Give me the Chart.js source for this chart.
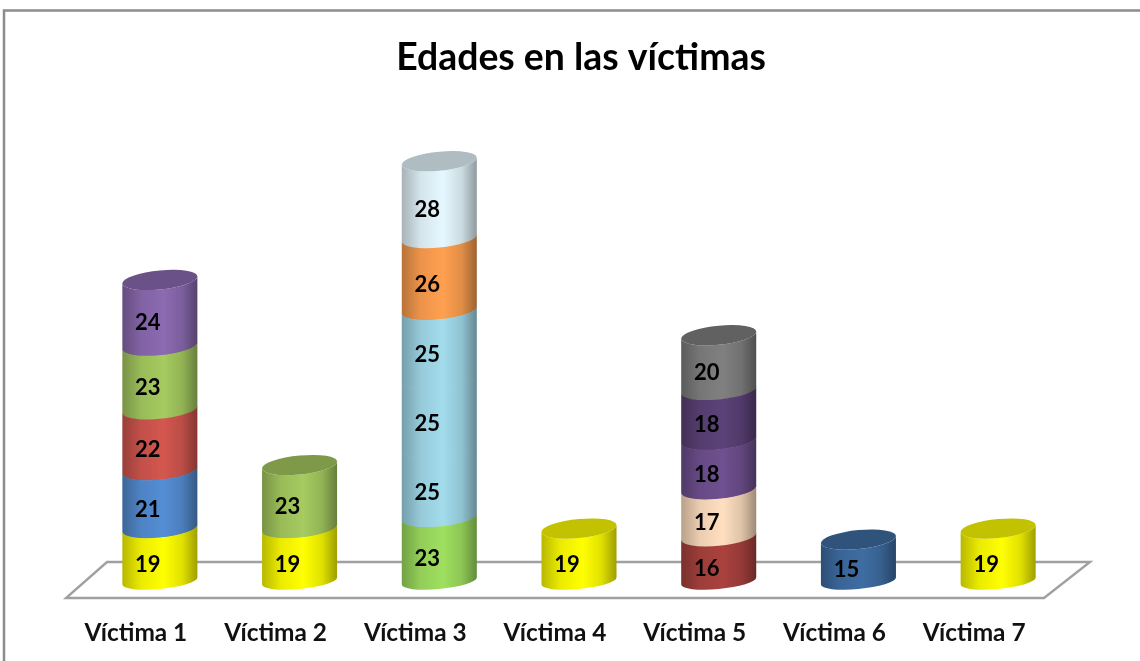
<!DOCTYPE html>
<html>
<head>
<meta charset="utf-8">
<title>Edades en las víctimas</title>
<script src="https://cdn.jsdelivr.net/npm/chart.js@4"></script>
<style>
  html, body { margin: 0; padding: 0; background: #fff; overflow: hidden; }
  canvas { display: block; }
</style>
</head>
<body>
<canvas id="edadesChart" width="1140" height="661"></canvas>
<script>
const categories = ['Víctima 1', 'Víctima 2', 'Víctima 3', 'Víctima 4', 'Víctima 5', 'Víctima 6', 'Víctima 7'];

// one array per stacked layer, bottom to top
const layer1 = [19, 19, 23, 19, 16, 15, 19];
const layer2 = [21, 23, 25, null, 17, null, null];
const layer3 = [22, null, 25, null, 18, null, null];
const layer4 = [23, null, 25, null, 18, null, null];
const layer5 = [24, null, 26, null, 20, null, null];
const layer6 = [null, null, 28, null, null, null, null];
const layers = [layer1, layer2, layer3, layer4, layer5, layer6];

const colors1 = ['#ffff00', '#ffff00', '#9fe060', '#ffff00', '#aa423e', '#3f6da3', '#ffff00'];
const colors2 = ['#558ed5', '#a6cb60', '#a3dcec', null, '#ffdfc0', null, null];
const colors3 = ['#d3574f', null, '#a3dcec', null, '#6f5090', null, null];
const colors4 = ['#a6cb60', null, '#a3dcec', null, '#5c4278', null, null];
const colors5 = ['#8c6bb1', null, '#ffa050', null, '#808080', null, null];
const colors6 = [null, null, '#e6f8ff', null, null, null, null];
const layerColors = [colors1, colors2, colors3, colors4, colors5, colors6];

// the cylinders stand halfway back on the floor, the axis is its front edge
const depthX = 24, depthY = 17;
const capRy = 9.5, baseRy = 8, capTilt = 3.5;

function shade(hex, f) {
  const n = parseInt(hex.slice(1), 16);
  const c = [n >> 16, (n >> 8) & 255, n & 255].map(v => Math.round(v * f));
  return `rgb(${c[0]},${c[1]},${c[2]})`;
}

// bars draw themselves as cylinder sections
Chart.BarElement.prototype.draw = function (ctx) {
  const { datasetIndex, index } = this.$context;
  const color = this.options.backgroundColor;
  if (this.y == null || isNaN(this.y) || this.y === this.base) return;

  const isTop = layers.slice(datasetIndex + 1).every(l => l[index] == null);
  const rx = this.width / 2;
  const yTop = this.y - depthY - (isTop ? 0 : 0.5);
  const yBot = this.base - depthY;
  const ryBot = datasetIndex === 0 ? baseRy : capRy;

  ctx.save();
  ctx.transform(1, -capTilt / rx, 0, 1, this.x + depthX, 0);

  const g = ctx.createLinearGradient(-rx, 0, rx, 0);
  g.addColorStop(0, shade(color, 0.72));
  g.addColorStop(0.25, shade(color, 0.92));
  g.addColorStop(0.55, color);
  g.addColorStop(0.8, shade(color, 0.88));
  g.addColorStop(1, shade(color, 0.62));

  ctx.beginPath();
  ctx.ellipse(0, yBot, rx, ryBot, 0, Math.PI, 0, true);
  ctx.lineTo(rx, yTop);
  ctx.ellipse(0, yTop, rx, capRy, 0, 0, Math.PI, false);
  ctx.closePath();
  ctx.fillStyle = g;
  ctx.fill();

  if (isTop) {
    ctx.beginPath();
    ctx.ellipse(0, yTop, rx, capRy, 0, 0, Math.PI * 2);
    ctx.fillStyle = shade(color, 0.76);
    ctx.fill();
  }
  ctx.restore();
};

const framePlugin = {
  id: 'frame',
  beforeDraw(chart) {
    const ctx = chart.ctx;
    ctx.save();
    ctx.strokeStyle = '#8c8c8c';
    ctx.lineWidth = 2.5;
    ctx.beginPath();
    ctx.moveTo(4, chart.height);
    ctx.lineTo(4, 10.5);
    ctx.lineTo(chart.width, 10.5);
    ctx.stroke();
    ctx.restore();
  }
};

const floorPlugin = {
  id: 'floor',
  beforeDatasetsDraw(chart) {
    const { ctx, chartArea: a } = chart;
    ctx.save();
    ctx.strokeStyle = '#a0a0a0';
    ctx.lineWidth = 2.4;
    ctx.lineJoin = 'miter';
    ctx.beginPath();
    ctx.moveTo(a.left, a.bottom);
    ctx.lineTo(a.right, a.bottom);
    ctx.lineTo(a.right + 46, a.bottom - 36);
    ctx.lineTo(a.left + 41, a.bottom - 36);
    ctx.closePath();
    ctx.stroke();
    ctx.restore();
  }
};

const valueLabels = {
  id: 'valueLabels',
  afterDatasetsDraw(chart) {
    const ctx = chart.ctx;
    ctx.save();
    ctx.font = 'bold 22px Lato';
    ctx.fillStyle = '#000';
    ctx.textAlign = 'center';
    ctx.textBaseline = 'middle';
    chart.data.datasets.forEach((ds, i) => {
      chart.getDatasetMeta(i).data.forEach((bar, j) => {
        if (ds.data[j] == null) return;
        ctx.fillText(ds.data[j], bar.x + 12, (bar.y + bar.base) / 2 - 7);
      });
    });
    ctx.restore();
  }
};

new Chart(document.getElementById('edadesChart'), {
  type: 'bar',
  data: {
    labels: categories,
    datasets: layers.map((l, i) => ({
      data: l,
      backgroundColor: layerColors[i],
      categoryPercentage: 1,
      barPercentage: 0.537,
      clip: false
    }))
  },
  options: {
    responsive: false,
    animation: false,
    layout: { padding: { left: 66, right: 96 } },
    plugins: {
      legend: { display: false },
      tooltip: { enabled: false },
      title: {
        display: true,
        text: 'Edades en las víctimas',
        color: '#000',
        font: { family: 'Lato', size: 37.4, weight: 'bold' },
        padding: { top: 35, bottom: 21 }
      }
    },
    scales: {
      x: {
        stacked: true,
        grid: { display: false },
        border: { display: false },
        ticks: {
          color: '#111',
          font: { family: 'Lato', size: 24.4, weight: 'bold' },
          padding: 13,
          maxRotation: 0
        },
        afterFit(scale) { scale.height = 63; }
      },
      y: {
        stacked: true,
        display: false,
        min: 0,
        max: 180
      }
    }
  },
  plugins: [
    framePlugin,
    floorPlugin,
    valueLabels,
    {
      // the title sits right of the plot centre in the reference
      id: 'titleShift',
      afterLayout(chart) { chart.titleBlock.left += 52; }
    }
  ]
});
</script>
</body>
</html>
